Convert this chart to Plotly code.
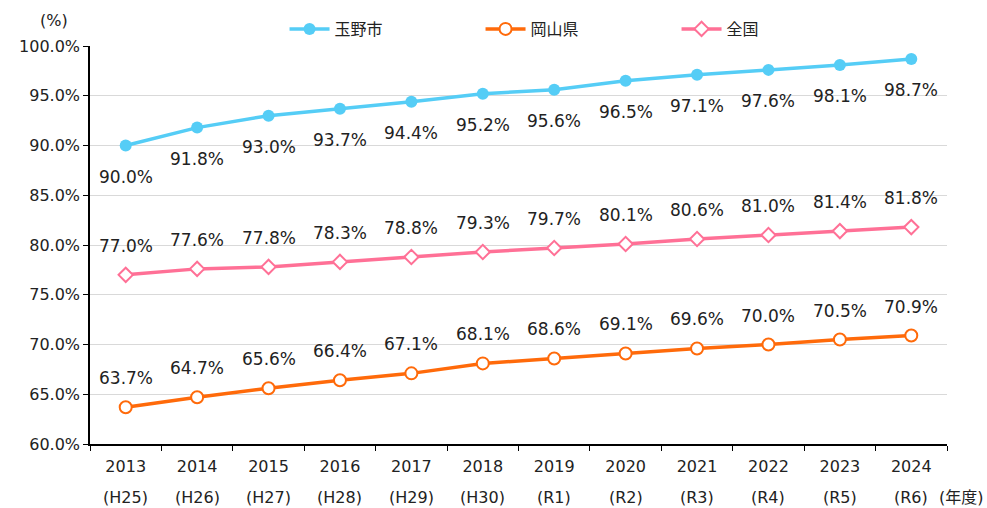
import plotly.graph_objects as go

years = ["2013", "2014", "2015", "2016", "2017", "2018", "2019", "2020", "2021", "2022", "2023", "2024"]
eras = ["H25", "H26", "H27", "H28", "H29", "H30", "R1", "R2", "R3", "R4", "R5", "R6"]
tamano = [90.0, 91.8, 93.0, 93.7, 94.4, 95.2, 95.6, 96.5, 97.1, 97.6, 98.1, 98.7]
okayama = [63.7, 64.7, 65.6, 66.4, 67.1, 68.1, 68.6, 69.1, 69.6, 70.0, 70.5, 70.9]
zenkoku = [77.0, 77.6, 77.8, 78.3, 78.8, 79.3, 79.7, 80.1, 80.6, 81.0, 81.4, 81.8]
y_ticks = [60, 65, 70, 75, 80, 85, 90, 95, 100]

FONT = "DejaVu Sans, Noto Sans CJK JP, sans-serif"
TXT = "#222222"

# (name, values, colour, marker, label offset in px)
series = [
    ("玉野市", tamano, "#55CDF6",
     dict(symbol="circle", size=12, color="#55CDF6"), -31),
    ("岡山県", okayama, "#FF6A0A",
     dict(symbol="circle", size=12, color="white", line=dict(width=2, color="#FF6A0A")), 29),
    ("全国", zenkoku, "#FF7096",
     dict(symbol="diamond", size=11, color="white", line=dict(width=2, color="#FF7096")), 29),
]

fig = go.Figure()
annotations = []
for name, vals, color, marker, shift in series:
    fig.add_trace(go.Scatter(
        x=years, y=vals, name=name, mode="lines+markers",
        line=dict(color=color, width=3.5), marker=marker,
    ))
    # category index positions for the value labels
    for i, v in enumerate(vals):
        annotations.append(dict(
            x=i, y=v, xref="x", yref="y", text=f"{v:.1f}%", showarrow=False,
            yshift=shift, font=dict(size=17, color=TXT, family=FONT),
        ))

# era names as a second row under the year ticks
for i, e in enumerate(eras):
    annotations.append(dict(x=i, y=0, xref="x", yref="paper", yanchor="middle",
                            yshift=-53, text=f"({e})", showarrow=False,
                            font=dict(size=16, color=TXT, family=FONT)))

annotations.append(dict(x=0, y=1, xref="paper", yref="paper", xanchor="right", yanchor="middle",
                        xshift=-20, yshift=26, text="(%)", showarrow=False,
                        font=dict(size=16, color=TXT, family=FONT)))
annotations.append(dict(x=1, y=0, xref="paper", yref="paper", xanchor="right", yanchor="middle",
                        xshift=39, yshift=-53, text="(年度)", showarrow=False,
                        font=dict(size=16, color=TXT, family=FONT)))

fig.update_layout(
    width=987, height=508,
    margin=dict(l=90, r=40, t=46, b=64),
    paper_bgcolor="white", plot_bgcolor="white",
    font=dict(family=FONT, size=16, color=TXT),
    showlegend=True,
    legend=dict(orientation="h", x=0.227, xanchor="left", y=1.0, yanchor="bottom",
                entrywidth=141, font=dict(size=16), itemwidth=40),
    annotations=annotations,
    xaxis=dict(type="category", range=[-0.5, 11.5], showgrid=False,
               showline=True, linecolor="black", linewidth=1.5,
               ticks="outside", tickson="boundaries", ticklen=5, tickcolor="black",
               ticklabelstandoff=7, tickfont=dict(size=16)),
    yaxis=dict(range=[60, 100], tickvals=y_ticks, ticktext=[f"{t:.1f}%" for t in y_ticks],
               showgrid=True, gridcolor="#D9D9D9", gridwidth=1,
               showline=True, linecolor="black", linewidth=1.5,
               ticks="outside", ticklen=5, tickcolor="black", zeroline=False,
               tickfont=dict(size=16)),
)

fig.write_html("out.html")
